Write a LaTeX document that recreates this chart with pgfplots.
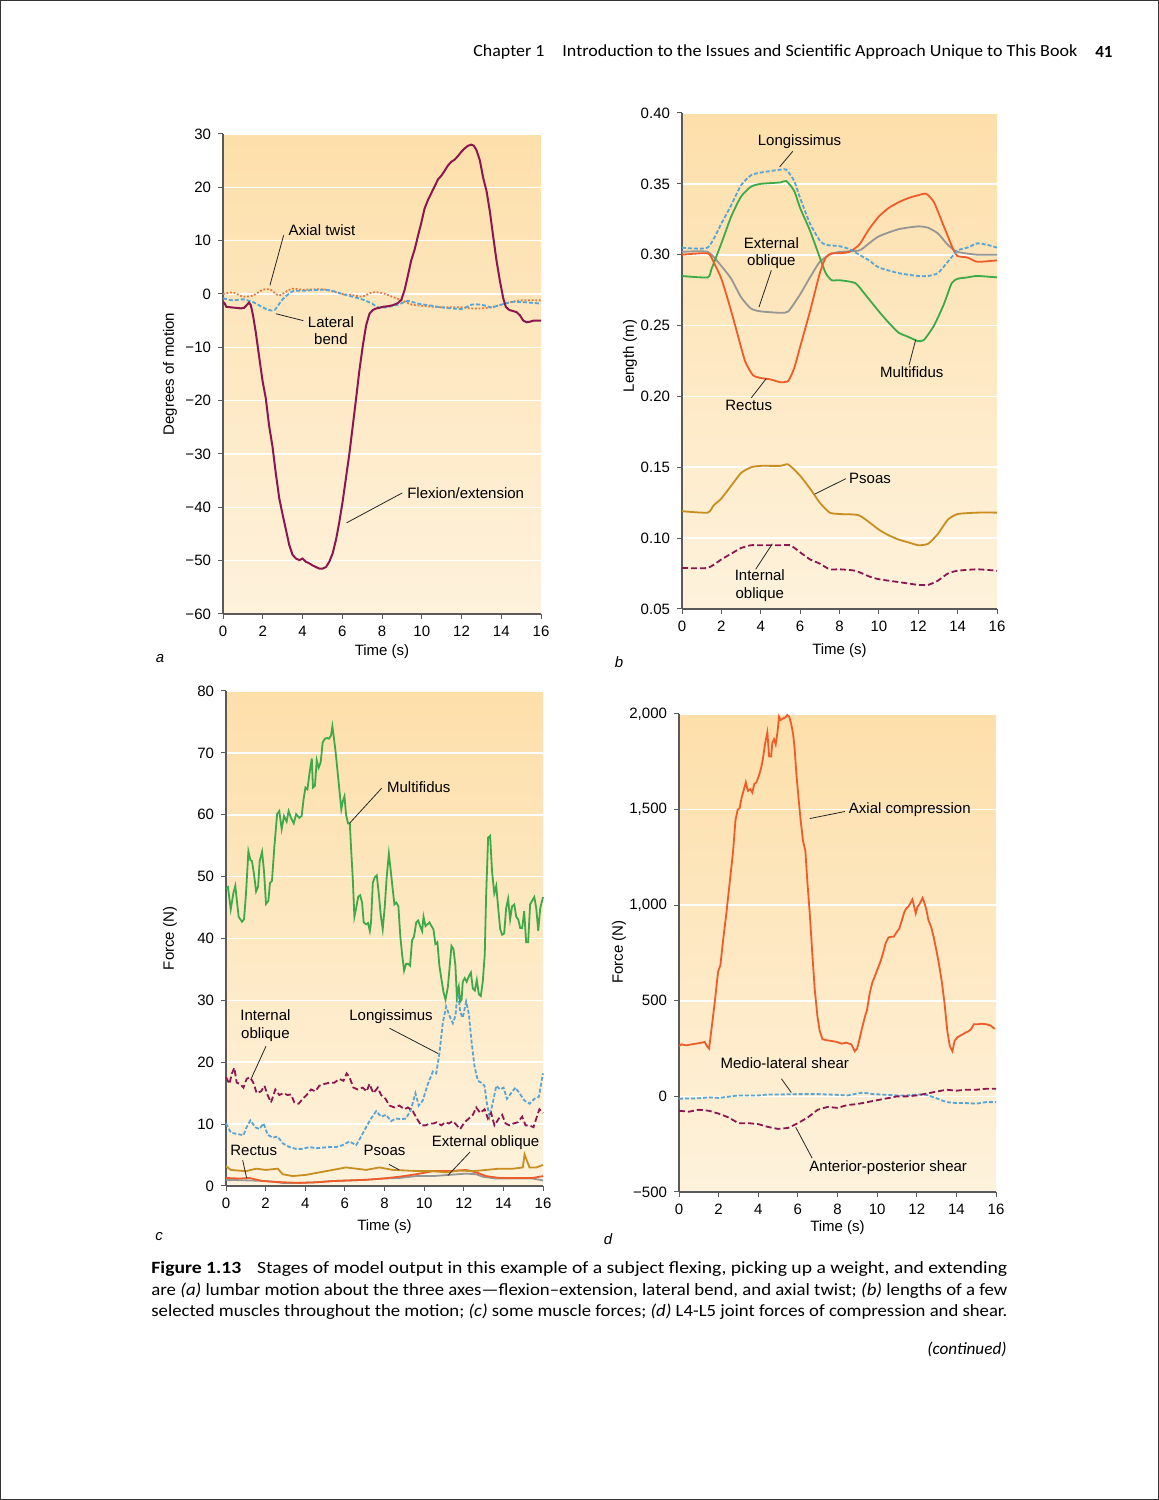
\documentclass[border=0pt]{standalone}
\usepackage{pgfplots}
\pgfplotsset{compat=1.18}
\usepackage{fontspec}
\usepackage{graphicx}
\setmainfont{Liberation Sans}
\newfontfamily\capfont{Carlito}
\definecolor{maroon}{RGB}{140,22,80}
\definecolor{orred}{RGB}{238,92,42}
\definecolor{dotorange}{RGB}{232,118,58}
\definecolor{lblue}{RGB}{88,164,212}
\definecolor{mgreen}{RGB}{60,170,72}
\definecolor{mgray}{RGB}{150,150,150}
\definecolor{gold}{RGB}{200,142,32}
\definecolor{axisgray}{RGB}{90,90,90}
\definecolor{bgtop}{RGB}{253,223,170}
\definecolor{bgbot}{RGB}{254,242,220}
\newcommand{\cf}{\fontsize{7.5}{8.8}\selectfont}
\tikzset{
  lead/.style={draw=black!85, line width=0.4pt},
  lab/.style={font=\cf, align=center, inner sep=0pt},
}
\pgfplotsset{
  panel/.style={
    scale only axis,
    axis x line*=bottom, axis y line*=left,
    axis line style={draw=axisgray, line width=0.6pt, -},
    xmin=0, xmax=16, xtick={0,2,...,16},
    tick align=outside, major tick length=2.5pt,
    tick style={draw=axisgray, line width=0.5pt},
    ymajorgrids, grid style={white, line width=0.8pt},
    axis background/.style={top color=bgtop, bottom color=bgbot, draw=none},
    tick label style={font=\cf, text=black},
    label style={font=\cf},
    /pgf/number format/assume math mode=true,
    clip=false,
  },
}
\begin{document}
\begin{tikzpicture}
\useasboundingbox (0,0) rectangle (579.5pt,750pt);
\fill[white] (0,0) rectangle (579.5pt,750pt);
\draw[black!80, line width=0.5pt] (0.25pt,0.25pt) rectangle (579.25pt,749.75pt);

% header
\node[anchor=west, inner sep=0pt, font=\capfont\fontsize{8.5}{10}\selectfont] at (236.5pt,724pt) {\resizebox{35.5pt}{\height}{Chapter 1}};
\node[anchor=west, inner sep=0pt, font=\capfont\fontsize{8.5}{10}\selectfont] at (281pt,724pt) {\resizebox{257.5pt}{\height}{Introduction to the Issues and Scientific Approach Unique to This Book}};
\node[anchor=east, inner sep=0pt, font=\capfont\fontsize{8.5}{10}\selectfont\bfseries] at (556.5pt,724pt) {41};

% ---------------- panel a ----------------
\begin{axis}[panel, at={(111.5pt,443pt)}, anchor=south west, width=159pt, height=240pt,
  ymin=-60, ymax=30, ytick={-60,-50,-40,-30,-20,-10,0,10,20,30},
  yticklabels={−60,−50,−40,−30,−20,−10,0,10,20,30},
  xlabel={Time (s)}, xlabel style={at={(axis description cs:0.5,-0.078)}, anchor=center},
  ylabel={Degrees of motion}, ylabel style={at={(axis description cs:-0.167,0.5)}, anchor=center}]
\addplot[dotorange, line width=0.9pt, dash pattern=on 0.9pt off 0.9pt, smooth, tension=0.4] coordinates {
(0,0) (0.5,0.3) (1,-0.5) (1.5,-0.3) (2,0.8) (2.4,0.8) (2.8,-0.3) (3.2,0.5) (3.5,1) (4,0.8) (5,0.9) (5.5,0.5) (6,0) (6.5,-0.2) (7,-0.5) (7.5,0.3) (8,0.2) (8.5,-0.5) (9,-1.2) (9.5,-2) (10,-2.2) (11,-2.5) (12,-2.5) (12.5,-2.7) (13,-2.7) (13.5,-2.5) (14,-2) (14.5,-1.5) (15,-1.2) (16,-1.2)};
\addplot[lblue, line width=0.9pt, dash pattern=on 2pt off 1pt, smooth, tension=0.4] coordinates {
(0,-0.8) (0.5,-1.2) (1,-1.0) (1.5,-1.5) (2,-2.5) (2.3,-3) (2.6,-3) (3,-1) (3.5,0.5) (4,0.6) (5,0.8) (5.5,0.6) (6,0) (6.5,-0.5) (7,-1) (7.5,-1.8) (7.8,-2.5) (8.2,-2.5) (8.8,-2) (9.3,-1.3) (9.8,-1.8) (10.5,-2.2) (11,-2.5) (12,-2.8) (12.5,-2) (13,-2) (13.5,-2.5) (14,-2) (14.5,-1.5) (15,-1.5) (16,-1.8)};
\addplot[maroon, line width=1pt] coordinates {
(0,-1.5) (0.07,-1.7) (0.17,-2.4) (0.39,-2.5) (0.67,-2.6) (0.89,-2.7) (1.06,-2.6) (1.19,-2.1) (1.31,-1.6) (1.40,-2.1) (1.51,-4.0) (1.65,-7.2) (1.82,-11.8) (1.99,-16.3) (2.15,-19.5) (2.32,-24.7) (2.49,-28.6) (2.66,-33.7) (2.83,-38.3) (2.99,-41.2) (3.16,-44.1) (3.33,-47) (3.50,-48.9) (3.67,-49.6) (3.84,-49.9) (4.00,-49.6) (4.17,-50.2) (4.34,-50.5) (4.51,-50.9) (4.68,-51.2) (4.85,-51.5) (5.01,-51.5) (5.18,-51.2) (5.35,-50.2) (5.52,-48.6) (5.69,-46) (5.85,-42.8) (6.02,-38.9) (6.19,-34.4) (6.36,-29.9) (6.53,-24.7) (6.70,-19.5) (6.86,-14.4) (7.03,-9.8) (7.20,-5.9) (7.37,-3.7) (7.54,-3.0) (7.71,-2.7) (7.87,-2.6) (8.04,-2.4) (8.29,-2.3) (8.55,-2.1) (8.80,-1.7) (8.97,-1.1) (9.14,0.8) (9.30,3.4) (9.47,6.3) (9.64,8.3) (9.81,10.9) (9.98,13.4) (10.14,16.0) (10.31,17.6) (10.48,18.9) (10.65,20.2) (10.82,21.5) (10.99,22.2) (11.15,23.1) (11.32,24.1) (11.49,24.8) (11.66,25.2) (11.83,25.9) (12.00,26.7) (12.16,27.3) (12.33,27.8) (12.50,28.0) (12.62,27.8) (12.75,27.0) (12.92,25.1) (13.09,21.8) (13.26,19.3) (13.43,15.4) (13.59,10.9) (13.76,6.3) (13.93,2.5) (14.10,-0.8) (14.23,-2.4) (14.40,-3.0) (14.60,-3.2) (14.77,-3.4) (14.94,-4.0) (15.11,-5.0) (15.28,-5.3) (15.44,-5.2) (15.61,-5.0) (15.78,-5.0) (16,-5.0)};
\draw[lead] (axis cs:2.36,1.6) -- (axis cs:3.05,11.0);
\node[lab] at (axis cs:4.98,12.0) {Axial twist};
\draw[lead] (axis cs:2.66,-3.7) -- (axis cs:4.04,-5.0);
\node[lab] at (axis cs:5.43,-6.9) {Lateral\\bend};
\draw[lead] (axis cs:6.22,-42.9) -- (axis cs:9.02,-37.3);
\node[lab] at (axis cs:12.21,-37.4) {Flexion/extension};
\end{axis}
\node[font=\cf\itshape] at (80pt,420.5pt) {a};

% ---------------- panel b ----------------
\begin{axis}[panel, at={(341pt,445.5pt)}, anchor=south west, width=157.5pt, height=248pt,
  ymin=0.05, ymax=0.40, ytick={0.05,0.10,0.15,0.20,0.25,0.30,0.35,0.40},
  yticklabels={0.05,0.10,0.15,0.20,0.25,0.30,0.35,0.40},
  xlabel={Time (s)}, xlabel style={at={(axis description cs:0.5,-0.083)}, anchor=center},
  ylabel={Length (m)}, ylabel style={at={(axis description cs:-0.165,0.51)}, anchor=center},
  every axis plot/.append style={smooth, tension=0.35}]
\addplot[mgray, line width=0.9pt] coordinates {
(0,0.302) (1.3,0.302) (2,0.292) (2.5,0.283) (3,0.270) (3.5,0.262) (4,0.260) (5,0.259) (5.4,0.260) (6,0.272) (6.5,0.284) (7,0.295) (7.5,0.300) (8,0.302) (9,0.303) (9.5,0.308) (10,0.313) (11,0.318) (12,0.320) (12.5,0.319) (13,0.315) (13.5,0.307) (14,0.302) (15,0.300) (16,0.300)};
\addplot[mgreen, line width=0.9pt] coordinates {
(0,0.285) (1.3,0.284) (1.5,0.290) (2,0.308) (2.5,0.327) (3,0.341) (3.5,0.348) (4,0.350) (5,0.351) (5.3,0.352) (5.7,0.345) (6,0.333) (6.5,0.317) (7,0.298) (7.3,0.287) (7.6,0.282) (8,0.282) (8.8,0.280) (9.3,0.272) (10,0.260) (10.5,0.252) (11,0.245) (11.5,0.242) (12,0.239) (12.3,0.240) (12.8,0.250) (13.3,0.265) (13.7,0.280) (14,0.283) (14.5,0.284) (15,0.285) (16,0.284)};
\addplot[orred, line width=0.9pt] coordinates {
(0,0.300) (1.3,0.301) (1.6,0.295) (2,0.283) (2.4,0.265) (2.8,0.245) (3.2,0.225) (3.6,0.215) (4,0.213) (4.5,0.212) (5,0.210) (5.4,0.211) (5.7,0.220) (6,0.235) (6.5,0.260) (7,0.287) (7.3,0.298) (7.6,0.301) (8,0.301) (8.5,0.302) (9,0.307) (9.5,0.318) (10,0.327) (10.5,0.333) (11,0.337) (11.5,0.340) (12,0.342) (12.4,0.343) (12.8,0.337) (13.3,0.320) (13.8,0.303) (14,0.299) (14.5,0.298) (15,0.295) (16,0.296)};
\addplot[lblue, line width=0.9pt, dash pattern=on 2pt off 1pt] coordinates {
(0,0.305) (1.3,0.305) (2,0.322) (2.5,0.335) (3,0.349) (3.5,0.356) (4,0.358) (5,0.360) (5.3,0.360) (5.7,0.352) (6,0.340) (6.5,0.322) (7,0.310) (7.3,0.307) (8,0.306) (8.5,0.304) (9,0.300) (9.5,0.296) (10,0.291) (11,0.287) (12,0.285) (12.5,0.285) (13,0.287) (13.5,0.295) (14,0.303) (14.5,0.305) (15,0.308) (15.5,0.307) (16,0.305)};
\addplot[gold, line width=0.9pt] coordinates {
(0,0.119) (1.3,0.118) (1.6,0.123) (2,0.128) (2.5,0.137) (3,0.146) (3.5,0.150) (4,0.151) (5,0.151) (5.4,0.152) (6,0.144) (6.5,0.135) (7,0.125) (7.5,0.118) (8,0.117) (9,0.116) (10,0.106) (10.5,0.102) (11,0.099) (11.5,0.097) (12,0.095) (12.5,0.096) (13,0.103) (13.5,0.113) (14,0.117) (15,0.118) (16,0.118)};
\addplot[maroon, line width=0.9pt, dash pattern=on 3pt off 1.5pt] coordinates {
(0,0.079) (1.3,0.079) (2,0.085) (2.5,0.089) (3,0.093) (3.5,0.095) (4,0.095) (5,0.095) (5.5,0.095) (6,0.090) (6.5,0.085) (7,0.082) (7.5,0.078) (8,0.078) (8.8,0.077) (9.5,0.073) (10,0.071) (11,0.069) (11.5,0.068) (12,0.067) (12.5,0.067) (13,0.070) (13.5,0.075) (14,0.077) (15,0.078) (16,0.077)};
\draw[lead] (axis cs:4.96,0.362) -- (axis cs:5.63,0.373);
\node[lab] at (axis cs:5.97,0.380) {Longissimus};
\draw[lead] (axis cs:3.91,0.263) -- (axis cs:4.54,0.289);
\node[lab] at (axis cs:4.54,0.301) {External\\oblique};
\draw[lead] (axis cs:11.87,0.240) -- (axis cs:11.53,0.222);
\node[lab] at (axis cs:11.67,0.217) {Multifidus};
\draw[lead] (axis cs:4.28,0.2126) -- (axis cs:3.52,0.199);
\node[lab] at (axis cs:3.39,0.194) {Rectus};
\draw[lead] (axis cs:6.73,0.131) -- (axis cs:8.33,0.142);
\node[lab] at (axis cs:9.55,0.142) {Psoas};
\draw[lead] (axis cs:4.59,0.096) -- (axis cs:3.74,0.078);
\node[lab] at (axis cs:3.95,0.0665) {Internal\\oblique};
\end{axis}
\node[font=\cf\itshape] at (309.5pt,419pt) {b};

% ---------------- panel c ----------------
\begin{axis}[panel, at={(113pt,157pt)}, anchor=south west, width=158.5pt, height=247.5pt,
  ymin=0, ymax=80, ytick={0,10,...,80},
  xlabel={Time (s)}, xlabel style={at={(axis description cs:0.5,-0.083)}, anchor=center},
  ylabel={Force (N)}, ylabel style={at={(axis description cs:-0.177,0.5)}, anchor=center}]
\addplot[mgray, line width=0.9pt] coordinates {
(0,1.0) (1.18,0.9) (2.02,0.8) (2.86,0.5) (3.70,0.5) (4.55,0.6) (5.39,0.8) (6.23,0.9) (7.07,1.0) (7.91,1.2) (8.75,1.3) (9.60,1.6) (10.44,1.6) (11.28,1.8) (12.12,2.0) (12.63,1.9) (12.96,1.5) (13.64,1.2) (14.65,1.2) (15.49,1.2) (16,0.9)};
\addplot[orred, line width=0.9pt] coordinates {
(0,1.3) (0.67,1.2) (1.18,1.3) (1.85,0.8) (2.86,0.6) (3.70,0.5) (4.55,0.6) (5.39,0.8) (6.23,0.9) (7.07,1.0) (7.91,1.2) (8.75,1.5) (9.60,1.9) (10.44,2.4) (11.28,2.4) (12.12,2.6) (12.63,2.2) (13.13,1.6) (13.80,1.3) (14.65,1.3) (15.49,1.3) (16,1.6)};
\addplot[gold, line width=0.9pt] coordinates {
(0,3.2) (0.25,2.6) (0.59,2.5) (1.01,2.4) (1.52,2.8) (2.02,2.6) (2.61,2.8) (2.86,1.9) (3.37,1.6) (4.04,1.8) (4.71,2.2) (5.39,2.6) (6.06,3.0) (6.57,2.8) (7.07,2.6) (7.74,3.0) (8.42,2.6) (9.09,2.5) (9.76,2.4) (10.44,2.4) (11.11,2.2) (11.78,2.5) (12.46,2.4) (13.13,2.6) (13.80,2.8) (14.48,2.8) (14.98,3.0) (15.07,5.1) (15.20,4.0) (15.32,3.0) (15.66,3.0) (16,3.4)};
\addplot[lblue, line width=0.9pt, dash pattern=on 2pt off 1pt] coordinates {
(0,10.1) (0.25,8.6) (0.59,8.4) (0.88,8.2) (1.04,9.5) (1.23,10.6) (1.48,9.5) (1.68,9.2) (1.90,10.1) (2.10,8.3) (2.36,7.8) (2.61,8.0) (2.86,6.9) (3.20,6.3) (3.54,6.0) (3.87,6.0) (4.21,6.3) (4.55,6.1) (4.88,6.2) (5.22,6.3) (5.56,6.3) (5.89,6.6) (6.23,7.2) (6.57,6.6) (6.82,8.0) (7.07,9.5) (7.32,10.9) (7.58,12.1) (7.83,11.2) (8.08,11.5) (8.33,10.5) (8.59,10.9) (8.84,10.8) (9.09,10.9) (9.34,12.4) (9.56,15.0) (9.73,13.0) (9.93,13.8) (10.19,16.5) (10.44,18.5) (10.61,18.2) (10.77,21.4) (10.94,26.3) (11.11,29.0) (11.28,27.5) (11.45,26.3) (11.58,27.5) (11.70,31.7) (11.82,28.1) (11.95,27.2) (12.12,29.8) (12.26,27.8) (12.37,24.0) (12.54,19.4) (12.71,17.0) (12.88,16.7) (13.05,16.2) (13.16,13.5) (13.30,11.2) (13.47,13.5) (13.64,16.2) (13.84,15.6) (14.01,15.9) (14.18,14.1) (14.39,15.0) (14.61,15.9) (14.81,15.0) (15.07,13.8) (15.32,13.3) (15.57,14.1) (15.79,14.4) (16,18.2)};
\addplot[maroon, line width=0.9pt, dash pattern=on 3pt off 1.5pt] coordinates {
(0,17.6) (0.17,16.5) (0.30,18.2) (0.42,19.1) (0.54,16.7) (0.71,16.5) (0.88,15.9) (1.04,17.3) (1.21,17.6) (1.38,16.7) (1.55,15.0) (1.77,15.3) (1.94,16.2) (2.10,14.7) (2.27,13.5) (2.49,15.6) (2.69,14.7) (2.90,15.0) (3.11,14.7) (3.28,14.8) (3.45,13.5) (3.67,13.3) (3.87,14.1) (4.07,14.7) (4.29,15.6) (4.51,15.3) (4.71,16.2) (4.97,16.5) (5.22,16.7) (5.47,16.7) (5.72,17.3) (5.93,17.0) (6.09,18.2) (6.23,17.6) (6.43,15.9) (6.65,15.6) (6.90,15.9) (7.10,15.3) (7.24,16.5) (7.44,15.0) (7.66,15.9) (7.83,14.7) (8.05,14.1) (8.25,13.0) (8.50,12.7) (8.75,13.0) (9.01,12.4) (9.18,12.7) (9.43,12.1) (9.63,10.9) (9.85,9.8) (10.07,9.8) (10.27,10.1) (10.47,10.1) (10.64,10.3) (10.86,9.8) (11.08,10.3) (11.25,10.1) (11.45,10.5) (11.65,9.8) (11.82,9.2) (12.04,10.3) (12.26,10.9) (12.46,11.5) (12.63,12.7) (12.83,11.8) (13.05,12.4) (13.22,10.9) (13.38,11.8) (13.55,9.8) (13.77,10.9) (13.94,11.5) (14.11,10.1) (14.31,9.8) (14.51,10.1) (14.73,10.3) (14.95,11.2) (15.12,9.8) (15.32,9.8) (15.52,9.5) (15.66,10.9) (15.82,12.4) (16,11.8)};
\addplot[mgreen, line width=0.9pt] coordinates {
(0,48.0) (0.10,48.3) (0.24,44.7) (0.37,47.3) (0.47,48.5) (0.56,45.8) (0.64,43.5) (0.81,42.7) (0.91,43.1) (1.01,47.3) (1.13,54.1) (1.23,52.7) (1.31,52.5) (1.41,50.5) (1.52,47.6) (1.62,48.4) (1.70,52.5) (1.82,54.0) (1.92,50.8) (2.02,45.6) (2.14,46.1) (2.22,49.0) (2.32,49.3) (2.44,54.8) (2.58,60.1) (2.69,60.6) (2.81,57.7) (2.93,59.8) (3.06,58.9) (3.16,60.6) (3.28,59.5) (3.42,58.6) (3.54,60.1) (3.70,59.5) (3.82,59.8) (3.91,62.4) (4.01,64.4) (4.11,64.1) (4.21,66.6) (4.33,69.1) (4.39,64.4) (4.49,64.7) (4.58,68.8) (4.68,67.6) (4.78,68.5) (4.88,71.7) (5.00,72.3) (5.10,72.4) (5.20,72.3) (5.30,72.8) (5.37,74.3) (5.44,72.6) (5.54,69.9) (5.64,66.7) (5.72,64.1) (5.82,60.9) (5.89,62.1) (5.98,63.0) (6.06,60.0) (6.16,58.6) (6.25,58.6) (6.31,54.8) (6.40,49.6) (6.48,43.5) (6.57,44.9) (6.67,46.7) (6.77,47.0) (6.87,45.8) (6.95,42.6) (7.07,42.3) (7.17,42.5) (7.26,41.2) (7.32,42.6) (7.41,49.0) (7.51,49.9) (7.61,50.2) (7.71,47.3) (7.81,43.8) (7.91,41.5) (8.01,45.0) (8.11,49.9) (8.22,53.7) (8.32,50.8) (8.42,47.8) (8.50,45.5) (8.60,45.8) (8.70,45.2) (8.80,40.3) (8.89,37.4) (8.99,34.8) (9.09,35.9) (9.19,35.9) (9.29,35.6) (9.39,39.7) (9.49,40.3) (9.60,42.6) (9.70,42.9) (9.80,42.0) (9.90,41.2) (9.97,43.5) (10.07,42.0) (10.17,42.3) (10.27,42.6) (10.37,42.0) (10.47,41.5) (10.57,39.1) (10.67,39.4) (10.77,35.6) (10.88,33.3) (10.98,31.3) (11.08,30.1) (11.20,32.2) (11.28,35.1) (11.38,38.8) (11.48,38.3) (11.58,35.6) (11.65,30.7) (11.75,32.2) (11.82,29.8) (11.89,30.1) (11.95,33.0) (12.05,33.6) (12.15,33.0) (12.26,33.9) (12.36,34.5) (12.46,31.9) (12.56,31.6) (12.66,33.3) (12.76,31.0) (12.86,30.7) (12.96,33.0) (13.06,37.4) (13.13,47.0) (13.23,56.3) (13.33,56.6) (13.43,50.8) (13.54,47.3) (13.64,48.5) (13.74,44.9) (13.84,41.5) (13.94,40.6) (14.04,40.8) (14.14,44.9) (14.24,46.4) (14.34,43.1) (14.44,45.2) (14.55,45.5) (14.65,43.5) (14.75,43.1) (14.85,41.7) (14.95,41.7) (15.05,44.4) (15.15,39.4) (15.25,39.4) (15.35,45.5) (15.45,46.1) (15.56,46.7) (15.66,44.9) (15.76,41.2) (15.86,44.9) (16.0,46.7)};
\draw[lead] (axis cs:6.23,58.6) -- (axis cs:7.86,64.3);
\node[lab] at (axis cs:9.73,64.4) {Multifidus};
\draw[lead] (axis cs:1.28,17.4) -- (axis cs:2.02,22.6);
\node[lab] at (axis cs:1.99,25.9) {Internal\\oblique};
\draw[lead] (axis cs:8.25,25.5) -- (axis cs:10.71,21.4);
\node[lab] at (axis cs:8.33,27.3) {Longissimus};
\draw[lead] (axis cs:0.84,4.2) -- (axis cs:1.04,1.3);
\node[lab] at (axis cs:1.40,5.7) {Rectus};
\draw[lead] (axis cs:8.22,3.5) -- (axis cs:8.75,2.6);
\node[lab] at (axis cs:8.0,5.7) {Psoas};
\draw[lead] (axis cs:12.32,5.5) -- (axis cs:11.20,1.7);
\node[lab] at (axis cs:13.1,7.0) {External oblique};
\end{axis}
\node[font=\cf\itshape] at (79.5pt,131.5pt) {c};

% ---------------- panel d ----------------
\begin{axis}[panel, at={(339.5pt,154pt)}, anchor=south west, width=158.5pt, height=239pt,
  ymin=-500, ymax=2000, ytick={-500,0,500,1000,1500,2000},
  yticklabels={−500,0,500,{1,000},{1,500},{2,000}},
  xlabel={Time (s)}, xlabel style={at={(axis description cs:0.5,-0.075)}, anchor=center},
  ylabel={Force (N)}, ylabel style={at={(axis description cs:-0.189,0.502)}, anchor=center}]
\addplot[orred, line width=0.9pt] coordinates {
(0,263) (0.12,272) (0.37,267) (0.62,272) (0.88,276) (1.13,281) (1.30,285) (1.41,263) (1.52,250) (1.63,344) (1.80,488) (1.97,651) (2.09,687) (2.22,813) (2.39,957) (2.56,1120) (2.73,1282) (2.85,1444) (2.96,1499) (3.06,1508) (3.16,1562) (3.28,1607) (3.37,1643) (3.48,1598) (3.60,1607) (3.70,1589) (3.80,1634) (3.91,1643) (4.04,1679) (4.16,1724) (4.24,1769) (4.34,1841) (4.46,1904) (4.55,1778) (4.65,1778) (4.71,1850) (4.80,1868) (4.88,1841) (4.97,1904) (5.05,1986) (5.13,1968) (5.25,1977) (5.37,1982) (5.47,1995) (5.56,1986) (5.66,1950) (5.76,1895) (5.84,1814) (5.93,1679) (6.04,1553) (6.14,1444) (6.26,1336) (6.38,1282) (6.48,1120) (6.60,957) (6.72,759) (6.85,561) (6.99,416) (7.10,344) (7.24,299) (7.44,294) (7.69,290) (7.95,285) (8.20,276) (8.45,281) (8.70,272) (8.87,236) (8.99,250) (9.09,290) (9.23,353) (9.38,416) (9.49,452) (9.63,542) (9.76,596) (9.90,632) (10.03,668) (10.17,705) (10.30,750) (10.44,804) (10.57,831) (10.71,835) (10.84,835) (10.98,858) (11.11,876) (11.25,921) (11.38,966) (11.48,984) (11.58,993) (11.68,1011) (11.78,1030) (11.87,993) (11.95,957) (12.04,993) (12.12,1002) (12.21,1020) (12.29,1038) (12.39,1011) (12.49,975) (12.59,921) (12.73,885) (12.86,831) (13.00,759) (13.13,687) (13.27,596) (13.40,488) (13.54,344) (13.67,263) (13.80,236) (13.91,290) (14.04,308) (14.18,317) (14.34,326) (14.48,335) (14.61,340) (14.75,353) (14.88,377) (15.05,377) (15.27,380) (15.52,377) (15.72,371) (15.86,359) (15.94,353)};
\addplot[lblue, line width=0.9pt, dash pattern=on 2pt off 1pt] coordinates {
(0,-12) (1,-10) (1.5,-5) (2,-8) (3,5) (4,5) (4.5,10) (5,10) (6,12) (7,12) (8,8) (8.5,5) (9,15) (9.3,20) (9.8,12) (10.5,8) (11,5) (11.5,5) (12,10) (12.5,8) (13,-10) (13.5,-30) (14,-35) (14.5,-35) (15,-38) (15.5,-30) (16,-30)};
\addplot[maroon, line width=0.9pt, dash pattern=on 3pt off 1.5pt] coordinates {
(0,-75) (0.5,-80) (1,-70) (1.5,-75) (2,-90) (2.5,-110) (3,-140) (3.5,-140) (4,-145) (4.5,-160) (5,-170) (5.5,-165) (6,-140) (6.5,-110) (7,-70) (7.5,-55) (8,-60) (8.5,-45) (9,-40) (9.5,-30) (10,-20) (10.5,-10) (11,0) (11.5,0) (12,5) (12.5,15) (13,25) (13.5,35) (14,30) (14.5,35) (15,35) (15.5,40) (16,40)};
\draw[lead] (axis cs:6.60,1453) -- (axis cs:8.37,1490);
\node[lab] at (axis cs:11.65,1499) {Axial compression};
\draw[lead] (axis cs:5.17,92) -- (axis cs:5.67,20);
\node[lab] at (axis cs:5.34,176) {Medio-lateral shear};
\draw[lead] (axis cs:5.89,-161) -- (axis cs:6.72,-323);
\node[lab] at (axis cs:10.56,-372) {Anterior-posterior shear};
\end{axis}
\node[font=\cf\itshape] at (304pt,130.5pt) {d};

% caption
\node[anchor=west, inner sep=0pt, font=\capfont\fontsize{8.6}{10}\selectfont] at (75.5pt,115.5pt) {\resizebox{428pt}{\height}{\textbf{Figure 1.13}\hspace{0.8em}Stages of model output in this example of a subject flexing, picking up a weight, and extending}};
\node[anchor=west, inner sep=0pt, font=\capfont\fontsize{8.6}{10}\selectfont] at (75.5pt,104.5pt) {\resizebox{428pt}{\height}{are \textit{(a)} lumbar motion about the three axes—flexion–extension, lateral bend, and axial twist; \textit{(b)} lengths of a few}};
\node[anchor=west, inner sep=0pt, font=\capfont\fontsize{8.6}{10}\selectfont] at (75.5pt,94pt) {\resizebox{428pt}{\height}{selected muscles throughout the motion; \textit{(c)} some muscle forces; \textit{(d)} L4-L5 joint forces of compression and shear.}};
\node[anchor=east, inner sep=0pt, font=\capfont\fontsize{8.6}{10}\selectfont\itshape] at (503.5pt,75.5pt) {(continued)};
\end{tikzpicture}
\end{document}
